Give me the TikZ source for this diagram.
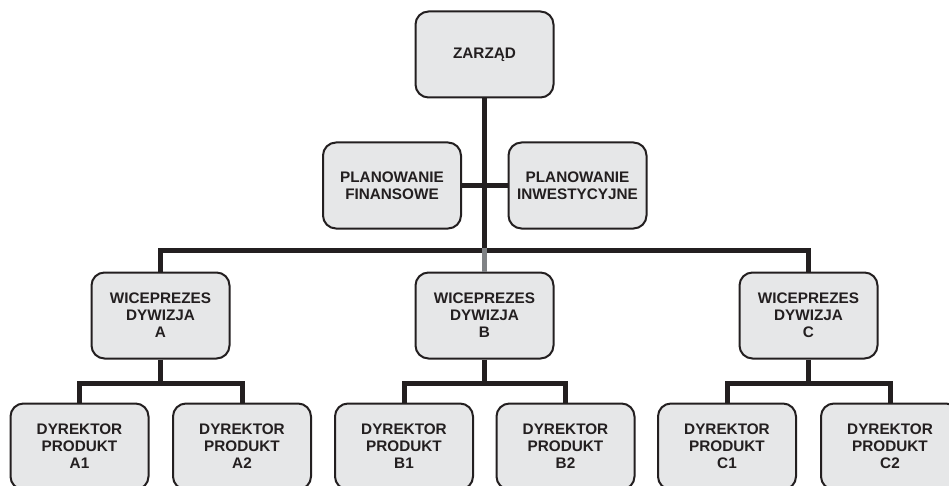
\documentclass[tikz,border=0pt]{standalone}
\usepackage{fontspec}
\setmainfont{Liberation Sans}
\definecolor{ink}{HTML}{231F20}
\definecolor{boxfill}{HTML}{E6E7E8}
\definecolor{linkgray}{HTML}{808285}
\begin{document}
\begin{tikzpicture}[x=1pt,y=-1pt,
  unit/.style={draw=ink, line width=2pt, fill=boxfill, rounded corners=13pt,
    minimum width=138pt, minimum height=86pt, inner sep=0pt, align=center,
    text=ink, font=\fontsize{15.3}{17}\selectfont\bfseries},
  link/.style={draw=ink, line width=5pt, line join=miter}]
\useasboundingbox (0,0) rectangle (949,486);
\clip (0,0) rectangle (949,486);

% top management and staff units
\node[unit] (zarzad) at (484.5,54.5) {ZARZĄD};
\node[unit] (pf) at (392,185.5) {PLANOWANIE\\FINANSOWE};
\node[unit] (pi) at (577.5,185.5) {PLANOWANIE\\INWESTYCYJNE};

% division vice-presidents
\node[unit] (wa) at (160.5,315.5) {WICEPREZES\\DYWIZJA\\A};
\node[unit] (wb) at (484.5,315.5) {WICEPREZES\\DYWIZJA\\B};
\node[unit] (wc) at (808.5,315.5) {WICEPREZES\\DYWIZJA\\C};

% product directors
\node[unit] (a1) at (79.5,446.5) {DYREKTOR\\PRODUKT\\A1};
\node[unit] (a2) at (242,446.5) {DYREKTOR\\PRODUKT\\A2};
\node[unit] (b1) at (404,446.5) {DYREKTOR\\PRODUKT\\B1};
\node[unit] (b2) at (565.5,446.5) {DYREKTOR\\PRODUKT\\B2};
\node[unit] (c1) at (727,446.5) {DYREKTOR\\PRODUKT\\C1};
\node[unit] (c2) at (890,446.5) {DYREKTOR\\PRODUKT\\C2};

% junction points of the tree
\coordinate (bar) at (484.5,250);
\coordinate (ja) at (160.5,383);
\coordinate (jb) at (484.5,383);
\coordinate (jc) at (808.5,383);

% connectors
\draw[link] (zarzad.south) -- (bar);
\draw[link] (pf.east) -- (pi.west);
\draw[link] (wa.north) |- (bar) -| (wc.north);
\draw[link, draw=linkgray] ([yshift=2.5pt]bar) -- (wb.north);
\draw[link] (wa.south) -- (ja);
\draw[link] (a1.north) |- (ja) -| (a2.north);
\draw[link] (wb.south) -- (jb);
\draw[link] (b1.north) |- (jb) -| (b2.north);
\draw[link] (wc.south) -- (jc);
\draw[link] (c1.north) |- (jc) -| (c2.north);
\end{tikzpicture}
\end{document}
